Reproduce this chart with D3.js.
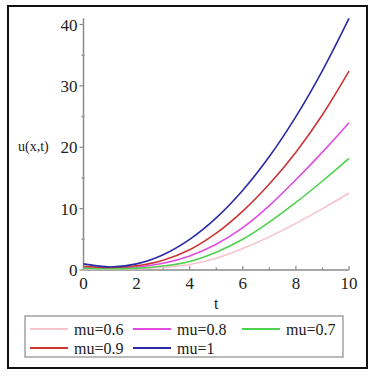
<!DOCTYPE html>
<html>
<head>
<meta charset="utf-8">
<script src="https://cdn.jsdelivr.net/npm/d3@7"></script>
<style>
  body { margin: 0; background: #fff; }
  svg { display: block; }
</style>
</head>
<body>
<svg id="chart" width="374" height="378"></svg>
<script>
// data
let tValues = [0, 1, 2, 3, 4, 5, 6, 7, 8, 9, 10];
let mu06 = [0.2, 0.15, 0.2, 0.45, 0.9, 1.9, 3.5, 5.4, 7.6, 10.0, 12.5];
let mu08 = [0.5, 0.3, 0.5, 1.1, 2.3, 4.2, 6.9, 10.5, 14.7, 19.2, 24.0];
let mu07 = [0.3, 0.2, 0.3, 0.65, 1.4, 2.9, 5.0, 7.8, 11.0, 14.5, 18.2];
let mu09 = [0.6, 0.4, 0.7, 1.6, 3.3, 6.0, 9.6, 14.0, 19.2, 25.3, 32.4];
let mu1  = [1.0, 0.5, 1.0, 2.5, 5.0, 8.5, 13.0, 18.5, 25.0, 32.5, 41.0];
let seriesLabels = ["mu=0.6", "mu=0.8", "mu=0.7", "mu=0.9", "mu=1"];
let seriesColors = ["#f6c3cc", "#e04ce0", "#4ed24e", "#cc3535", "#2b2ba6"];
let xTicks = [0, 2, 4, 6, 8, 10];
let yTicks = [0, 10, 20, 30, 40];

let series = [mu06, mu08, mu07, mu09, mu1].map(function(vals, i) {
    return { label: seriesLabels[i], color: seriesColors[i], values: vals };
});

let chart = d3.select("#chart");
let serif = "Liberation Serif";

// frame
chart.append("rect")
    .attr("x", 8).attr("y", 6)
    .attr("width", 359).attr("height", 362)
    .attr("fill", "none")
    .attr("stroke", "#111")
    .attr("stroke-width", 2);

let x = d3.scaleLinear().domain([0, 10]).range([83.5, 349]);
let y = d3.scaleLinear().domain([0, 40]).range([270, 24.5]);

let axisColor = "#8a8a8a";

// y axis
chart.append("line")
    .attr("x1", x(0)).attr("x2", x(0))
    .attr("y1", y(0)).attr("y2", y(41))
    .attr("stroke", axisColor).attr("stroke-width", 1.5);

chart.selectAll(".ymajor")
    .data(yTicks)
    .enter()
    .append("line")
    .attr("x1", x(0) - 4).attr("x2", x(0))
    .attr("y1", function(d) { return y(d); })
    .attr("y2", function(d) { return y(d); })
    .attr("stroke", axisColor).attr("stroke-width", 1.2);

chart.selectAll(".yminor")
    .data(d3.range(5, 40, 10))
    .enter()
    .append("line")
    .attr("x1", x(0) - 2).attr("x2", x(0) + 1)
    .attr("y1", function(d) { return y(d); })
    .attr("y2", function(d) { return y(d); })
    .attr("stroke", axisColor).attr("stroke-width", 1.2);

chart.selectAll(".ylabel")
    .data(yTicks)
    .enter()
    .append("text")
    .attr("x", x(0) - 6)
    .attr("y", function(d) { return y(d) + 6; })
    .attr("text-anchor", "end")
    .style("font-family", serif)
    .style("font-size", "17px")
    .style("fill", "#222")
    .text(function(d) { return d; });

// x axis
chart.append("line")
    .attr("x1", x(0)).attr("x2", x(10))
    .attr("y1", y(0)).attr("y2", y(0))
    .attr("stroke", axisColor).attr("stroke-width", 1.5);

chart.selectAll(".xmajor")
    .data(xTicks)
    .enter()
    .append("line")
    .attr("x1", function(d) { return x(d); })
    .attr("x2", function(d) { return x(d); })
    .attr("y1", y(0) - 4).attr("y2", y(0))
    .attr("stroke", axisColor).attr("stroke-width", 1.2);

chart.selectAll(".xminor")
    .data(d3.range(1, 10, 2))
    .enter()
    .append("line")
    .attr("x1", function(d) { return x(d); })
    .attr("x2", function(d) { return x(d); })
    .attr("y1", y(0) - 2.5).attr("y2", y(0))
    .attr("stroke", axisColor).attr("stroke-width", 1.2);

chart.selectAll(".xlabel")
    .data(xTicks)
    .enter()
    .append("text")
    .attr("x", function(d) { return x(d); })
    .attr("y", 289)
    .attr("text-anchor", "middle")
    .style("font-family", serif)
    .style("font-size", "17px")
    .style("fill", "#222")
    .text(function(d) { return d; });

// axis titles
chart.append("text")
    .attr("x", x(5)).attr("y", 309)
    .attr("text-anchor", "middle")
    .style("font-family", serif)
    .style("font-size", "16px")
    .style("fill", "#222")
    .text("t");

chart.append("text")
    .attr("x", 18).attr("y", 151)
    .style("font-family", serif)
    .style("font-size", "14px")
    .style("fill", "#222")
    .text("u(x,t)");

// curves
let line = d3.line()
    .x(function(d, i) { return x(tValues[i]); })
    .y(function(d) { return y(d); })
    .curve(d3.curveCatmullRom.alpha(0.5));

chart.selectAll(".curve")
    .data(series)
    .enter()
    .append("path")
    .attr("d", function(d) { return line(d.values); })
    .attr("fill", "none")
    .attr("stroke", function(d) { return d.color; })
    .attr("stroke-width", 1.6);

// legend
chart.append("rect")
    .attr("x", 25).attr("y", 316)
    .attr("width", 318).attr("height", 41)
    .attr("fill", "#fff")
    .attr("stroke", "#8a8a8a")
    .attr("stroke-width", 1.2);

let colX = [30, 133, 242];
let rowY = [329, 348];

let legend = chart.selectAll(".legend")
    .data(series)
    .enter()
    .append("g")
    .attr("transform", function(d, i) {
        return "translate(" + colX[i % 3] + "," + rowY[Math.floor(i / 3)] + ")";
    });

legend.append("line")
    .attr("x1", 0).attr("x2", 38)
    .attr("y1", 0).attr("y2", 0)
    .attr("stroke", function(d) { return d.color; })
    .attr("stroke-width", 2);

legend.append("text")
    .attr("x", 44).attr("y", 6)
    .style("font-family", serif)
    .style("font-size", "16px")
    .style("fill", "#222")
    .text(function(d) { return d.label; });
</script>
</body>
</html>
